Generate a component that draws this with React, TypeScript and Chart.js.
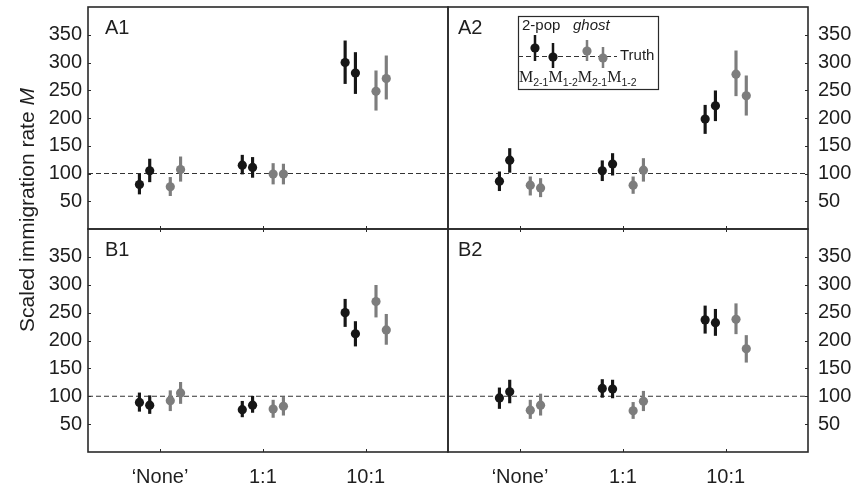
import React, { useEffect, useRef } from 'react';
import { Chart, registerables } from 'chart.js';

Chart.register(...registerables);

// ---------------- DATA ----------------
const CATEGORIES = ['‘None’', '1:1', '10:1'];
const SERIES = ['2-pop M2-1', '2-pop M1-2', 'ghost M2-1', 'ghost M1-2'];
const SERIES_SUBS = ['2-1', '1-2', '2-1', '1-2'];
const SERIES_DODGE = [-0.2, -0.1, 0.1, 0.2];
const Y_TICKS = [50, 100, 150, 200, 250, 300, 350];
const TRUTH = 100;
const X_MIN = 0.3;
const X_MAX = 3.8;
const Y_MIN = 0;
const Y_MAX = 400;

// rows = series (2-pop M2-1, 2-pop M1-2, ghost M2-1, ghost M1-2), cols = categories
const A1_MEAN = [[80, 115, 300], [105, 111, 281], [76, 99, 248], [107, 99, 271]];
const A1_LOW = [[63, 99, 262], [85, 93, 244], [60, 81, 214], [86, 81, 234]];
const A1_HIGH = [[99, 133, 339], [126, 129, 318], [93, 118, 285], [130, 117, 312]];

const A2_MEAN = [[86, 105, 198], [124, 117, 222], [79, 79, 279], [74, 106, 240]];
const A2_LOW = [[69, 87, 172], [102, 97, 195], [61, 64, 240], [58, 86, 205]];
const A2_HIGH = [[103, 123, 223], [145, 136, 249], [94, 94, 321], [91, 127, 276]];

const B1_MEAN = [[89, 76, 250], [84, 84, 212], [92, 77, 270], [106, 82, 219]];
const B1_LOW = [[73, 63, 225], [69, 71, 190], [74, 62, 242], [87, 66, 193]];
const B1_HIGH = [[106, 91, 274], [101, 100, 234], [110, 93, 299], [125, 98, 247]];

const B2_MEAN = [[97, 114, 237], [108, 113, 232], [75, 74, 238], [84, 91, 185]];
const B2_LOW = [[78, 98, 213], [88, 97, 209], [60, 60, 212], [66, 74, 161]];
const B2_HIGH = [[115, 130, 262], [129, 129, 256], [93, 89, 266], [104, 109, 209]];

// ---------------- STYLE / LAYOUT ----------------
const W = 857;
const H = 489;
const GEO = { left: 88, midX: 448, right: 808, top: 7, midY: 229, bottom: 452 };
const BLACK = '#161616';
const GRAY = '#7d7d7d';
const FRAME = '#2a2a2a';
const TEXT = '#1e1e1e';
const SANS = "'Liberation Sans', Arial, Helvetica, sans-serif";
const SERIF = "'Liberation Serif', 'Times New Roman', serif";

Chart.defaults.font.family = SANS;
Chart.defaults.color = TEXT;

const PANELS = [
  { id: 'A1', col: 0, row: 0, mean: A1_MEAN, low: A1_LOW, high: A1_HIGH },
  { id: 'A2', col: 1, row: 0, mean: A2_MEAN, low: A2_LOW, high: A2_HIGH },
  { id: 'B1', col: 0, row: 1, mean: B1_MEAN, low: B1_LOW, high: B1_HIGH },
  { id: 'B2', col: 1, row: 1, mean: B2_MEAN, low: B2_LOW, high: B2_HIGH },
];

const framePlugin = {
  id: 'frame',
  afterDraw(chart: any) {
    const { ctx, chartArea: a } = chart;
    const panel = chart.options.plugins.frame;
    const xs = chart.scales.x;
    const ys = chart.scales.y;
    ctx.save();
    ctx.strokeStyle = FRAME;
    ctx.lineWidth = 1.6;
    ctx.strokeRect(a.left, a.top, a.right - a.left, a.bottom - a.top);
    ctx.lineWidth = 1;
    ctx.beginPath();
    Y_TICKS.forEach((v) => {
      const y = Math.round(ys.getPixelForValue(v)) + 0.5;
      if (panel.col === 0) {
        ctx.moveTo(a.left, y);
        ctx.lineTo(a.left + 3, y);
      } else {
        ctx.moveTo(a.right, y);
        ctx.lineTo(a.right - 3, y);
      }
    });
    CATEGORIES.forEach((_, c) => {
      const x = Math.round(xs.getPixelForValue(c + 1)) + 0.5;
      ctx.moveTo(x, a.bottom);
      ctx.lineTo(x, a.bottom - 3);
      if (panel.row === 1) {
        ctx.moveTo(x, a.top);
        ctx.lineTo(x, a.top + 3);
      }
    });
    ctx.stroke();
    ctx.fillStyle = TEXT;
    ctx.font = `20px ${SANS}`;
    ctx.textBaseline = 'top';
    ctx.textAlign = 'left';
    ctx.fillText(panel.id, a.left + (panel.col === 0 ? 17 : 10), a.top + 11);
    ctx.restore();
  },
};

const titlePlugin = {
  id: 'ytitle',
  afterDraw(chart: any) {
    if (chart.options.plugins.frame.id !== 'A1') return;
    const { ctx } = chart;
    ctx.save();
    ctx.translate(28, 210);
    ctx.rotate(-Math.PI / 2);
    ctx.fillStyle = TEXT;
    ctx.textBaseline = 'middle';
    ctx.textAlign = 'left';
    const main = 'Scaled immigration rate ';
    ctx.font = `21px ${SANS}`;
    const w1 = ctx.measureText(main).width;
    ctx.font = `italic 21px ${SANS}`;
    const w2 = ctx.measureText('M').width;
    const start = -(w1 + w2) / 2;
    ctx.font = `21px ${SANS}`;
    ctx.fillText(main, start, 0);
    ctx.font = `italic 21px ${SANS}`;
    ctx.fillText('M', start + w1, 0);
    ctx.restore();
  },
};

const LEGEND = { x: 518, y: 16, w: 140, h: 73 };
const LEGEND_MARKS = [
  { dx: 17, cy: 32, lo: 19, hi: 45 },
  { dx: 35, cy: 41, lo: 27, hi: 52 },
  { dx: 69, cy: 35, lo: 24, hi: 45 },
  { dx: 85, cy: 42, lo: 31, hi: 52 },
];

const legendPlugin = {
  id: 'customLegend',
  afterDraw(chart: any) {
    if (chart.options.plugins.frame.id !== 'A2') return;
    const { ctx } = chart;
    const L = LEGEND;
    ctx.save();
    ctx.fillStyle = '#ffffff';
    ctx.fillRect(L.x, L.y, L.w, L.h);
    ctx.strokeStyle = FRAME;
    ctx.lineWidth = 1.2;
    ctx.strokeRect(L.x + 0.5, L.y + 0.5, L.w, L.h);
    ctx.fillStyle = TEXT;
    ctx.textBaseline = 'alphabetic';
    ctx.font = `15px ${SANS}`;
    ctx.fillText('2-pop', L.x + 4, L.y + 14);
    ctx.font = `italic 15px ${SANS}`;
    ctx.fillText('ghost', L.x + 55, L.y + 14);
    // truth line
    ctx.strokeStyle = '#333';
    ctx.lineWidth = 1.2;
    ctx.setLineDash([5, 3]);
    ctx.beginPath();
    ctx.moveTo(L.x, L.y + 40.5);
    ctx.lineTo(L.x + 99, L.y + 40.5);
    ctx.stroke();
    ctx.setLineDash([]);
    ctx.font = `15px ${SANS}`;
    ctx.textBaseline = 'middle';
    ctx.fillText('Truth', L.x + 102, L.y + 40);
    LEGEND_MARKS.forEach((m, i) => {
      const col = i < 2 ? BLACK : GRAY;
      ctx.fillStyle = col;
      ctx.fillRect(L.x + m.dx - 1.25, L.y + m.lo, 2.5, m.hi - m.lo);
      ctx.beginPath();
      ctx.arc(L.x + m.dx, L.y + m.cy, 4.6, 0, Math.PI * 2);
      ctx.fill();
    });
    // labels M with subscripts
    ctx.fillStyle = TEXT;
    ctx.textBaseline = 'alphabetic';
    let x = L.x + 1;
    const base = L.y + 66;
    SERIES_SUBS.forEach((s) => {
      ctx.font = `16px ${SERIF}`;
      ctx.fillText('M', x, base);
      x += ctx.measureText('M').width;
      ctx.font = `10.5px ${SANS}`;
      ctx.fillText(s, x, base + 4);
      x += ctx.measureText(s).width;
    });
    ctx.restore();
  },
};

function buildConfig(panel: any) {
  const isLeft = panel.col === 0;
  const isTop = panel.row === 0;
  const padding = {
    left: isLeft ? 0 : GEO.midX,
    right: isLeft ? W - GEO.midX : 0,
    top: isTop ? GEO.top : GEO.midY,
    bottom: isTop ? H - GEO.midY : 0,
  };
  const yWidth = isLeft ? GEO.left : W - GEO.right;
  const xHeight = isTop ? 0 : H - GEO.bottom;

  const datasets: any[] = [
    {
      type: 'line',
      label: 'Truth',
      data: [
        { x: X_MIN, y: TRUTH },
        { x: X_MAX, y: TRUTH },
      ],
      borderColor: '#333333',
      borderWidth: 1.2,
      borderDash: [5, 3],
      pointRadius: 0,
      order: 2,
    },
  ];
  SERIES.forEach((name, s) => {
    const color = s < 2 ? BLACK : GRAY;
    datasets.push({
      type: 'bar',
      label: name + ' CI',
      data: CATEGORIES.map((_, c) => ({
        x: c + 1 + SERIES_DODGE[s],
        y: [panel.low[s][c], panel.high[s][c]],
      })),
      backgroundColor: color,
      borderWidth: 0,
      barThickness: 2.5,
      grouped: false,
      order: 1,
    });
    datasets.push({
      type: 'scatter',
      label: name,
      data: CATEGORIES.map((_, c) => ({ x: c + 1 + SERIES_DODGE[s], y: panel.mean[s][c] })),
      backgroundColor: color,
      borderWidth: 0,
      pointRadius: 4.6,
      pointHoverRadius: 4.6,
      order: 0,
    });
  });

  return {
    type: 'scatter',
    data: { datasets },
    options: {
      responsive: false,
      animation: false,
      events: [],
      layout: { padding, autoPadding: false },
      plugins: {
        legend: { display: false },
        tooltip: { enabled: false },
        frame: { id: panel.id, col: panel.col, row: panel.row },
      },
      scales: {
        x: {
          type: 'linear',
          min: X_MIN,
          max: X_MAX,
          offset: false,
          display: !isTop,
          grid: { display: false, drawTicks: false },
          border: { display: false },
          afterBuildTicks: (scale: any) => {
            scale.ticks = CATEGORIES.map((_, c) => ({ value: c + 1 }));
          },
          afterFit: (scale: any) => {
            scale.height = xHeight;
            scale.paddingLeft = 0;
            scale.paddingRight = 0;
            scale.paddingTop = 0;
            scale.paddingBottom = 0;
          },
          ticks: {
            padding: 13,
            autoSkip: false,
            maxRotation: 0,
            font: { size: 20, family: SANS },
            color: TEXT,
            callback: (v: any) => CATEGORIES[Math.round(v) - 1],
          },
        },
        y: {
          type: 'linear',
          position: isLeft ? 'left' : 'right',
          min: Y_MIN,
          max: Y_MAX,
          grid: { display: false, drawTicks: false },
          border: { display: false },
          afterBuildTicks: (scale: any) => {
            scale.ticks = Y_TICKS.map((v) => ({ value: v }));
          },
          afterFit: (scale: any) => {
            scale.width = yWidth;
            scale.paddingLeft = 0;
            scale.paddingRight = 0;
            scale.paddingTop = 0;
            scale.paddingBottom = 0;
          },
          ticks: {
            padding: isLeft ? 6 : 10,
            font: { size: 20, family: SANS },
            color: TEXT,
            callback: (v: any) => String(v),
          },
        },
      },
    },
    plugins: [framePlugin, titlePlugin, legendPlugin],
  };
}

function Panel({ panel }: { panel: any }) {
  const ref = useRef<HTMLCanvasElement | null>(null);
  useEffect(() => {
    if (!ref.current) return;
    const chart = new Chart(ref.current, buildConfig(panel) as any);
    return () => chart.destroy();
  }, [panel]);
  return (
    <canvas
      ref={ref}
      width={W}
      height={H}
      style={{ position: 'absolute', left: 0, top: 0, width: W, height: H }}
    />
  );
}

export default function App() {
  return (
    <div style={{ position: 'absolute', left: 0, top: 0, width: W, height: H, background: '#ffffff' }}>
      {PANELS.map((p) => (
        <Panel key={p.id} panel={p} />
      ))}
    </div>
  );
}
